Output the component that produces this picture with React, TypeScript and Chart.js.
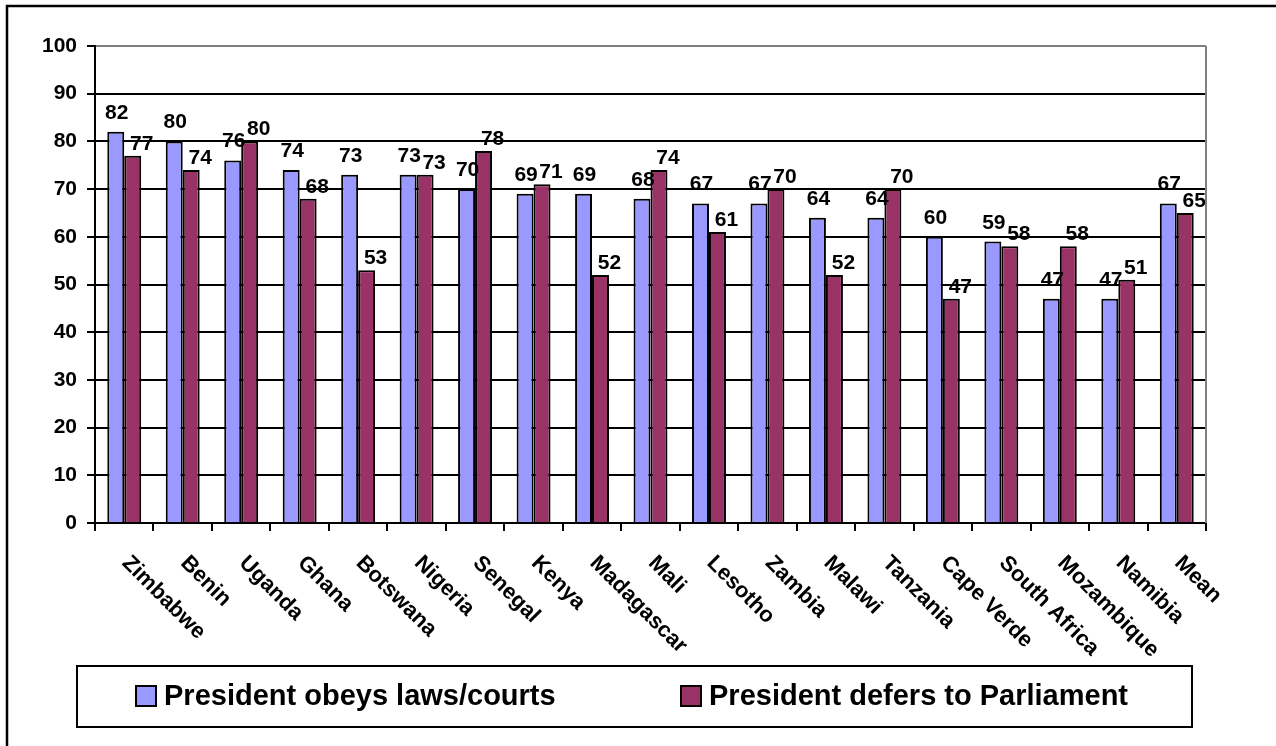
import React, { useEffect, useRef } from "react";
import { Chart, registerables } from "chart.js";

Chart.register(...registerables);

const countries = [
  "Zimbabwe", "Benin", "Uganda", "Ghana", "Botswana", "Nigeria", "Senegal", "Kenya",
  "Madagascar", "Mali", "Lesotho", "Zambia", "Malawi", "Tanzania", "Cape Verde",
  "South Africa", "Mozambique", "Namibia", "Mean",
];
const obeysLaws = [82, 80, 76, 74, 73, 73, 70, 69, 69, 68, 67, 67, 64, 64, 60, 59, 47, 47, 67];
const defersParliament = [77, 74, 80, 68, 53, 73, 78, 71, 52, 74, 61, 70, 52, 70, 47, 58, 58, 51, 65];
const seriesNames = ["President obeys laws/courts", "President defers to Parliament"];
const seriesColors = ["#9999FF", "#993366"];
const yTicks = [0, 10, 20, 30, 40, 50, 60, 70, 80, 90, 100];

const FONT = '"Liberation Sans", Arial, Helvetica, sans-serif';

// per-series label placement (style only)
const labelDx = [1, 9];
const labelGap = [13, 6];

const framePlugin = {
  id: "frame",
  afterDraw(chart: any) {
    const ctx = chart.ctx;
    const ca = chart.chartArea;
    ctx.save();
    ctx.strokeStyle = "#808080";
    ctx.lineWidth = 2;
    ctx.beginPath();
    ctx.moveTo(ca.right, ca.top);
    ctx.lineTo(ca.right, ca.bottom);
    ctx.stroke();
    ctx.strokeStyle = "#000";
    ctx.lineWidth = 2.5;
    ctx.strokeRect(7, 6, 1300, 800);

    const xs = chart.scales.x;
    ctx.fillStyle = "#000";
    ctx.font = `bold 22px ${FONT}`;
    ctx.textAlign = "left";
    ctx.textBaseline = "alphabetic";
    const labels = chart.data.labels as string[];
    labels.forEach((lab, i) => {
      const cx = xs.getPixelForValue(i);
      ctx.save();
      ctx.translate(cx - 3, ca.bottom + 41);
      ctx.rotate(Math.PI / 4);
      ctx.fillText(lab, 0, 0);
      ctx.restore();
    });

    const lx = 77, ly = 666, lw = 1192 - 77, lh = 727 - 666;
    ctx.lineWidth = 2;
    ctx.strokeStyle = "#000";
    ctx.fillStyle = "#fff";
    ctx.fillRect(lx, ly, lw, lh);
    ctx.strokeRect(lx, ly, lw, lh);
    const itemX = [136, 681];
    ctx.font = `bold 29px ${FONT}`;
    ctx.textBaseline = "middle";
    chart.data.datasets.forEach((ds: any, i: number) => {
      const sx = itemX[i];
      ctx.fillStyle = ds.backgroundColor;
      ctx.fillRect(sx, 686, 20, 20);
      ctx.strokeStyle = "#000";
      ctx.lineWidth = 2;
      ctx.strokeRect(sx, 686, 20, 20);
      ctx.fillStyle = "#000";
      ctx.fillText(ds.label, sx + 28, 697);
    });
    ctx.restore();
  },
  afterDatasetsDraw(chart: any) {
    const ctx = chart.ctx;
    ctx.save();
    ctx.fillStyle = "#000";
    ctx.font = `bold 21px ${FONT}`;
    ctx.textAlign = "center";
    ctx.textBaseline = "alphabetic";
    chart.data.datasets.forEach((ds: any, di: number) => {
      const meta = chart.getDatasetMeta(di);
      meta.data.forEach((bar: any, i: number) => {
        ctx.fillText(String(ds.data[i]), bar.x + labelDx[di], bar.y - labelGap[di]);
      });
    });
    ctx.restore();
  },
};

export default function App() {
  const ref = useRef<HTMLCanvasElement | null>(null);
  useEffect(() => {
    if (!ref.current) return;
    const chart = new Chart(ref.current, {
      type: "bar",
      data: {
        labels: countries,
        datasets: [
          {
            label: seriesNames[0],
            data: obeysLaws,
            backgroundColor: seriesColors[0],
            borderColor: "#000",
            borderWidth: 2,
            barPercentage: 1,
            categoryPercentage: 0.58,
          },
          {
            label: seriesNames[1],
            data: defersParliament,
            backgroundColor: seriesColors[1],
            borderColor: "#000",
            borderWidth: 2,
            barPercentage: 1,
            categoryPercentage: 0.58,
          },
        ],
      },
      options: {
        responsive: false,
        animation: false,
        layout: { padding: { top: 46, right: 70, left: 0, bottom: 0 } },
        plugins: {
          legend: { display: false },
          tooltip: { enabled: false },
        },
        scales: {
          x: {
            offset: true,
            grid: {
              display: true,
              offset: true,
              drawOnChartArea: false,
              drawTicks: true,
              tickLength: 8,
              color: "#000",
              tickColor: "#000",
              lineWidth: 2,
            },
            border: { display: true, color: "#000", width: 2 },
            ticks: { display: false },
            afterFit: (scale: any) => {
              scale.height = 223;
            },
          },
          y: {
            min: 0,
            max: 100,
            afterBuildTicks: (scale: any) => {
              scale.ticks = yTicks.map((v) => ({ value: v }));
            },
            grid: {
              color: (c: any) => (c.tick && c.tick.value === 100 ? "#808080" : "#000"),
              tickColor: "#000",
              lineWidth: 2,
              tickLength: 8,
            },
            border: { display: true, color: "#000", width: 2 },
            ticks: {
              padding: 10,
              color: "#000",
              font: { family: FONT, size: 21, weight: "bold" },
            },
            afterFit: (scale: any) => {
              scale.width = 95;
            },
          },
        },
      },
      plugins: [framePlugin],
    });
    return () => chart.destroy();
  }, []);
  return (
    <div style={{ position: "fixed", left: 0, top: 0, width: 1276, height: 746, background: "#fff" }}>
      <canvas ref={ref} width={1276} height={746} style={{ width: 1276, height: 746, display: "block" }} />
    </div>
  );
}
